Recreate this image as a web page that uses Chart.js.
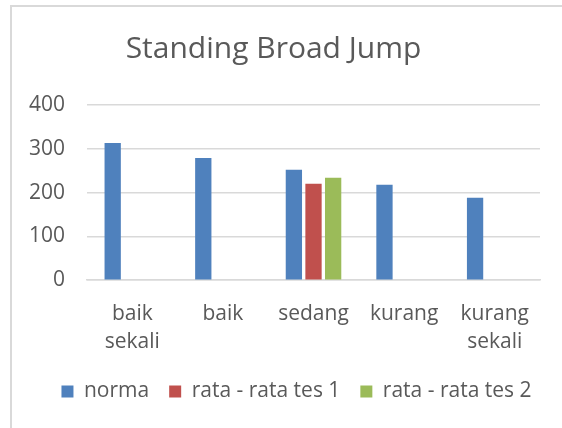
<!DOCTYPE html>
<html lang="id">
<head>
<meta charset="utf-8">
<title>Standing Broad Jump</title>
<script src="https://cdn.jsdelivr.net/npm/chart.js"></script>
<style>
html,body{margin:0;width:562px;height:428px;background:#fff;overflow:hidden}
#frame{position:absolute;left:10px;top:5px;right:0;bottom:0;
  border-left:2px solid #d9d9d9;border-top:2px solid #d9d9d9}
#wrap{position:absolute;left:0;top:0;width:562px;height:428px}
</style>
</head>
<body>
<div id="frame"></div>
<div id="wrap"><canvas id="c"></canvas></div>
<script>
/* data */
const kategori = [['baik','sekali'], 'baik', 'sedang', 'kurang', ['kurang','sekali']];
const norma    = [313, 279, 252, 218, 188];
const tes1     = [null, null, 220, null, null];
const tes2     = [null, null, 234, null, null];
const yTicks   = [0, 100, 200, 300, 400];

const FONT = "'Open Sans', Calibri, sans-serif";
const GREY = '#595959';

// legend sits centred on the frame and a bit closer to the axis labels
const shiftLegend = {
  id: 'shiftLegend',
  afterLayout(chart) {
    const lg = chart.legend;
    lg.left += 23; lg.right += 23;
    lg.top -= 7; lg.bottom -= 7;
  }
};

new Chart(document.getElementById('c'), {
  type: 'bar',
  data: {
    labels: kategori,
    datasets: [
      {label: 'norma', data: norma, backgroundColor: '#4f81bd'},
      {label: 'rata - rata tes 1', data: tes1, backgroundColor: '#c0504d'},
      {label: 'rata - rata tes 2', data: tes2, backgroundColor: '#9bbb59'}
    ]
  },
  options: {
    responsive: true, maintainAspectRatio: false, animation: false,
    datasets: {bar: {categoryPercentage: 0.65, barPercentage: 0.83}},
    layout: {padding: {left: 7, right: 22, top: 20, bottom: 9}},
    plugins: {
      title: {display: true, text: 'Standing Broad Jump', color: GREY,
        font: {family: FONT, size: 30, weight: 'normal'}, padding: {top: 11, bottom: 38}},
      legend: {position: 'bottom',
        labels: {color: GREY, boxWidth: 12, boxHeight: 12, padding: 20,
          font: {family: FONT, size: 21}}},
      tooltip: {enabled: false}
    },
    scales: {
      x: {grid: {display: false},
        border: {color: '#d9d9d9', width: 1.5},
        ticks: {color: GREY, font: {family: FONT, size: 21, lineHeight: 1.33}, padding: 12, maxRotation: 0, autoSkip: false}},
      y: {min: 0, max: 400,
        afterBuildTicks: a => { a.ticks = yTicks.map(v => ({value: v})); },
        grid: {color: '#d9d9d9', lineWidth: 1.5, drawTicks: false},
        border: {display: false},
        ticks: {color: GREY, font: {family: FONT, size: 21}, padding: 22}}
    }
  },
  plugins: [shiftLegend]
});
</script>
</body>
</html>
